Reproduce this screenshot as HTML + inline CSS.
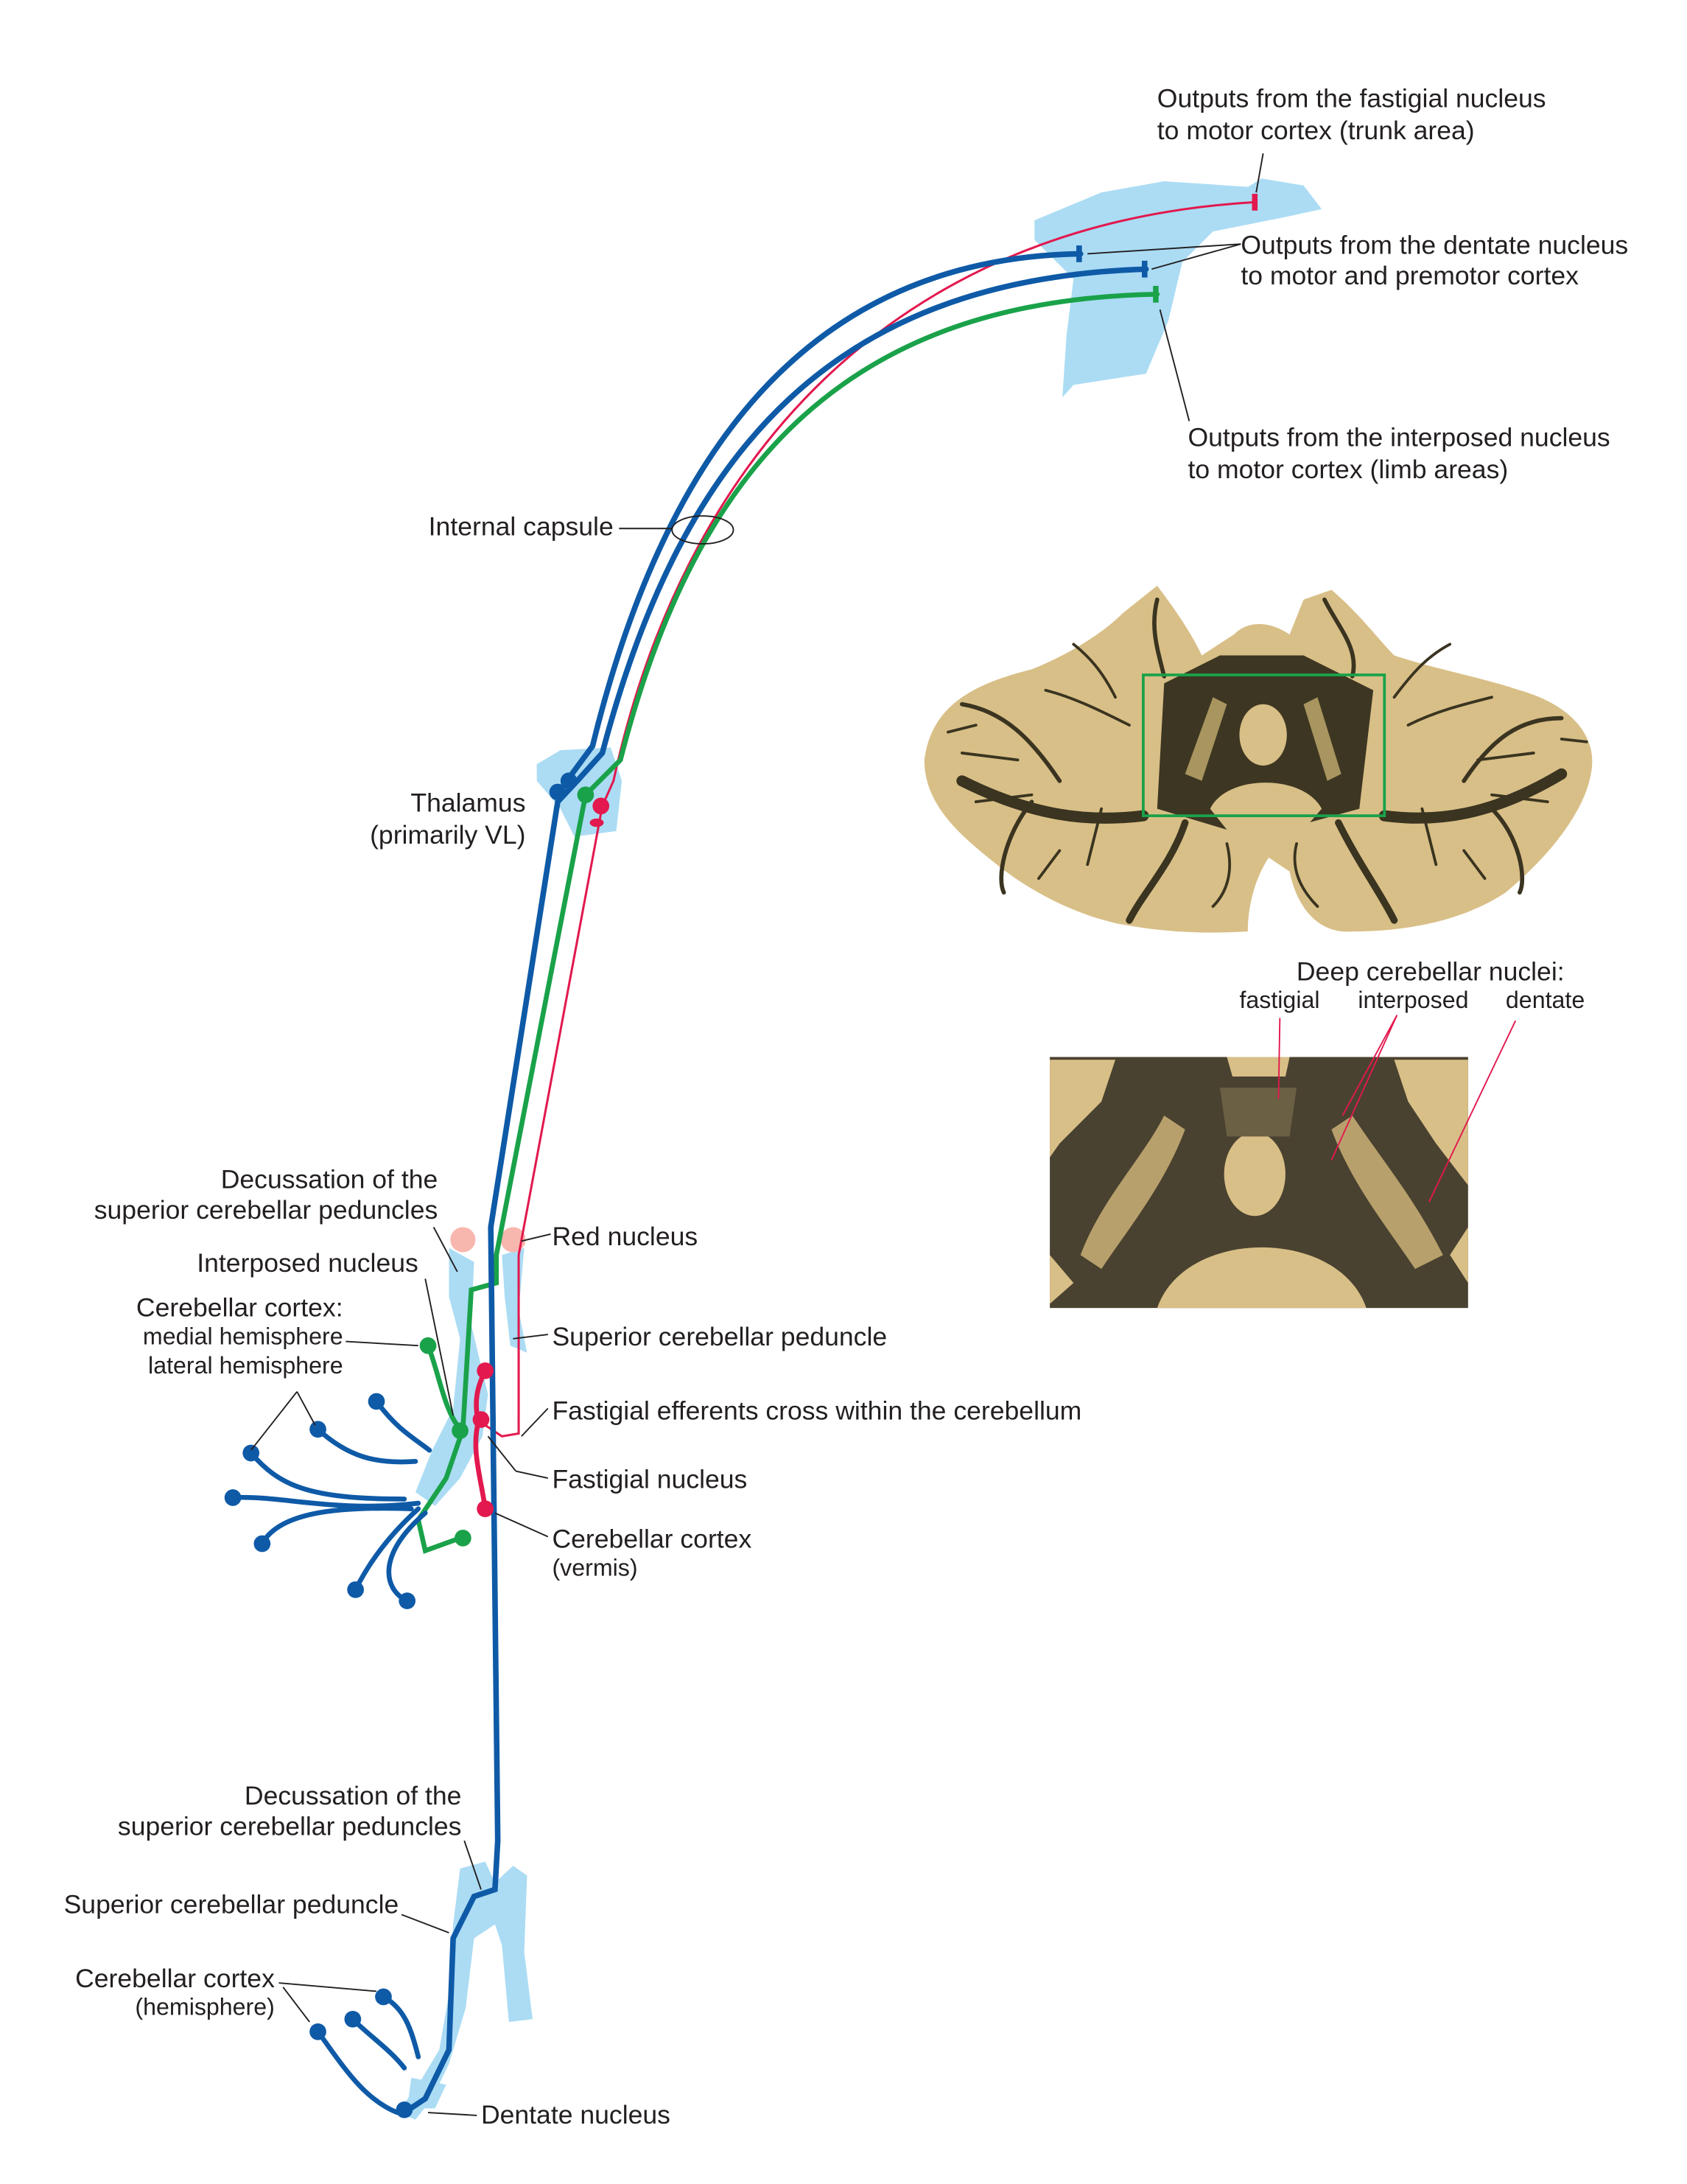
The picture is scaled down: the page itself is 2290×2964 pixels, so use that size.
<!DOCTYPE html>
<html><head><meta charset="utf-8"><style>
html,body{margin:0;padding:0;background:#fff}
svg{display:block}
text{font-family:"Liberation Sans",sans-serif;fill:#231f20}
</style></head><body>
<svg width="2290" height="2964" viewBox="0 0 1210 1566.2" xmlns="http://www.w3.org/2000/svg">
<path d="M742,158 L790,138 L835,130 L895,134 L905,128 L935,133 L948,150 L920,156 L870,166 L848,188 L838,230 L822,268 L770,276 L762,285 L765,240 L770,200 L742,172 Z" fill="#abdcf4"/>
<path d="M385,548 L402,538 L438,536 L446,560 L442,596 L412,600 L402,580 L385,560 Z" fill="#abdcf4"/>
<path d="M322,895 L340,905 L338,950 L350,1000 L346,1030 L330,1060 L312,1080 L298,1070 L310,1040 L325,1010 L330,960 L322,930 Z" fill="#abdcf4"/>
<path d="M360,900 L376,895 L372,940 L378,970 L366,965 L362,930 Z" fill="#abdcf4"/>
<circle cx="332" cy="889" r="9" fill="#f7b7ae"/><circle cx="368" cy="889" r="9" fill="#f7b7ae"/>
<path d="M330,1340 L348,1335 L355,1350 L368,1338 L378,1345 L376,1400 L382,1448 L365,1450 L360,1395 L355,1380 L340,1390 L334,1440 L322,1480 L310,1505 L298,1520 L285,1515 L300,1495 L315,1470 L322,1430 L325,1380 Z" fill="#abdcf4"/>
<path d="M295,1490 L320,1495 L312,1512 L292,1512 Z" fill="#abdcf4"/>
<g fill="none" stroke-linecap="round">
<path d="M900,145 C640,160 490,330 440,560 L432,578 L372,900 L372,1028 L360,1030 L345,1020" stroke="#e2184e" stroke-width="1.6"/>
<path d="M348,983 C342,995 340,1005 343,1020 C338,1040 345,1060 348,1082" stroke="#e2184e" stroke-width="3.5"/>
<path d="M830,211 C610,215 500,330 445,545 L420,570 L356,900 L356,920 L338,925 L332,1025 L320,1060 L300,1090 L305,1112 L330,1103" stroke="#1aa24a" stroke-width="3.5"/>
<path d="M307,965 C315,985 318,1010 330,1025" stroke="#1aa24a" stroke-width="3.5"/>
<path d="M775,182 C590,185 480,310 425,535 L408,558" stroke="#0e5aa7" stroke-width="4"/>
<path d="M822,193 C600,200 490,320 432,540 L414,560 L400,575 L352,880 L357,1320 L355,1355 L340,1360 L325,1390 L322,1470 L305,1505 L290,1515" stroke="#0e5aa7" stroke-width="4"/>
<path d="M228,1457 C245,1480 260,1505 285,1515" stroke="#0e5aa7" stroke-width="3.5"/>
<path d="M253,1448 C265,1460 280,1470 290,1483" stroke="#0e5aa7" stroke-width="3.5"/>
<path d="M275,1432 C290,1440 295,1455 300,1475" stroke="#0e5aa7" stroke-width="3.5"/>
<g stroke="#0e5aa7" stroke-width="3.5">
<path d="M228,1025 C250,1045 270,1050 298,1048"/>
<path d="M180,1042 C200,1065 220,1075 290,1075"/>
<path d="M167,1074 C200,1072 240,1085 300,1078"/>
<path d="M188,1107 C200,1085 240,1080 295,1082"/>
<path d="M255,1140 C265,1120 280,1100 300,1082"/>
<path d="M292,1148 C275,1140 270,1115 305,1085"/>
<path d="M270,1005 C285,1025 295,1030 308,1040"/>
</g>
</g>
<g fill="#0e5aa7">
<circle cx="400" cy="568" r="6"/><circle cx="408" cy="560" r="6"/>
<circle cx="228" cy="1025" r="6"/><circle cx="180" cy="1042" r="6"/><circle cx="167" cy="1074" r="6"/><circle cx="188" cy="1107" r="6"/><circle cx="255" cy="1140" r="6"/><circle cx="292" cy="1148" r="6"/><circle cx="270" cy="1005" r="6"/>
<circle cx="228" cy="1457" r="6"/><circle cx="253" cy="1448" r="6"/><circle cx="275" cy="1432" r="6"/><circle cx="290" cy="1513" r="6"/>
<rect x="772" y="176" width="4" height="12"/><rect x="819" y="187" width="4" height="12"/>
</g>
<g fill="#1aa24a"><circle cx="420" cy="570" r="6"/><circle cx="307" cy="965" r="6"/><circle cx="330" cy="1026" r="6"/><circle cx="332" cy="1103" r="6"/><rect x="827" y="205" width="4" height="12"/></g>
<g fill="#e2184e"><circle cx="431" cy="578" r="6"/><circle cx="348" cy="983" r="6"/><circle cx="345" cy="1018" r="6"/><circle cx="348" cy="1082" r="6"/><rect x="898" y="139" width="4" height="12"/><ellipse cx="428" cy="590" rx="5" ry="3"/></g>
<ellipse cx="504" cy="380" rx="22" ry="10" fill="none" stroke="#231f20" stroke-width="1"/>
<g stroke="#231f20" stroke-width="1" fill="none">
<line x1="444" y1="379" x2="482" y2="379"/>
<line x1="906" y1="110" x2="901" y2="138"/>
<line x1="890" y1="175" x2="780" y2="182"/><line x1="890" y1="175" x2="826" y2="193"/>
<line x1="832" y1="222" x2="853" y2="302"/>
<line x1="311" y1="880" x2="328" y2="912"/>
<line x1="305" y1="917" x2="325" y2="1015"/>
<line x1="248" y1="962" x2="300" y2="965"/>
<line x1="213" y1="998" x2="180" y2="1040"/><line x1="213" y1="998" x2="226" y2="1022"/>
<line x1="395" y1="885" x2="374" y2="890"/>
<line x1="393" y1="957" x2="368" y2="960"/>
<line x1="393" y1="1010" x2="374" y2="1030"/>
<line x1="393" y1="1060" x2="370" y2="1055"/><line x1="370" y1="1055" x2="350" y2="1030"/>
<line x1="393" y1="1102" x2="355" y2="1085"/>
<line x1="333" y1="1320" x2="345" y2="1355"/>
<line x1="288" y1="1373" x2="322" y2="1386"/>
<line x1="200" y1="1422" x2="270" y2="1428"/><line x1="203" y1="1425" x2="222" y2="1450"/>
<line x1="342" y1="1517" x2="307" y2="1515"/>
</g>
<path d="M663,545 C668,505 700,490 740,480 C765,470 790,455 805,440 L830,420 C845,440 855,455 862,470 L885,455 C895,445 910,445 925,455 L935,430 L955,423 C975,440 990,460 1000,470 C1030,480 1060,485 1090,495 C1125,505 1143,525 1142,548 C1140,580 1110,615 1080,640 C1050,660 1010,668 970,668 C945,670 930,650 925,625 L910,615 C900,630 895,650 895,668 C860,670 830,668 800,662 C770,655 740,640 715,620 C690,600 663,578 663,545 Z" fill="#d8bf87"/>
<g stroke="#3a3420" fill="none" stroke-linecap="round">
<path d="M820,585 C780,590 740,585 690,560" stroke-width="8"/>
<path d="M993,585 C1030,590 1070,585 1120,555" stroke-width="8"/>
<path d="M850,590 C840,620 820,640 810,660" stroke-width="5"/>
<path d="M960,590 C975,620 990,640 1000,660" stroke-width="5"/>
<path d="M740,575 C720,600 715,630 720,640" stroke-width="3"/>
<path d="M1070,580 C1090,600 1095,630 1090,640" stroke-width="3"/>
<path d="M760,560 C740,530 720,510 690,505" stroke-width="3"/>
<path d="M1050,560 C1070,530 1090,515 1120,515" stroke-width="3"/>
<path d="M835,485 C830,465 825,450 830,430" stroke-width="3"/>
<path d="M970,485 C975,465 960,450 950,430" stroke-width="3"/>
<path d="M690,540 L730,545 M700,575 L740,570 M1100,540 L1060,545 M1110,575 L1070,570 M780,620 L790,580 M1030,620 L1020,580" stroke-width="2"/>
<path d="M800,500 C790,480 780,470 770,462 M810,520 C790,510 770,500 750,495 M700,520 L680,525 M1000,500 C1015,480 1025,470 1040,462 M1010,520 C1030,510 1050,505 1070,500 M1120,530 L1138,532 M760,610 L745,630 M1050,610 L1065,630 M880,605 C885,625 880,640 870,650 M930,605 C925,625 935,640 945,650" stroke-width="2"/>
</g>
<path d="M835,490 L875,470 L935,470 L985,495 L975,580 L920,595 L880,595 L830,580 Z" fill="#3d3622"/>
<ellipse cx="906" cy="527" rx="17" ry="22" fill="#d8bf87"/>
<path d="M868,580 C880,555 935,555 948,580 L935,595 L880,595 Z" fill="#d8bf87"/>
<path d="M850,555 L870,500 L880,505 L862,560 Z M962,555 L945,500 L935,505 L952,560 Z" fill="#a8955f"/>
<rect x="820" y="484" width="173" height="101" fill="none" stroke="#1aa24a" stroke-width="2"/>
<rect x="753" y="758" width="300" height="180" fill="#4a4230"/>
<path d="M753,760 L800,760 L790,790 L760,820 L753,830 Z M1000,760 L1053,760 L1053,850 L1030,820 L1010,790 Z" fill="#d8bf87"/>
<path d="M880,758 L925,758 L922,772 L884,772 Z" fill="#d8bf87"/>
<ellipse cx="900" cy="842" rx="22" ry="30" fill="#d8bf87"/>
<path d="M830,938 C850,880 960,880 980,938 Z" fill="#d8bf87"/>
<path d="M775,900 C790,860 820,830 835,800 L850,810 C835,850 810,880 790,910 Z" fill="#b8a06c"/>
<path d="M1035,900 C1015,860 990,830 970,800 L955,810 C970,850 995,880 1015,910 Z" fill="#b8a06c"/>
<path d="M875,780 L930,780 L925,815 L880,815 Z" fill="#6b5f44"/>
<path d="M1053,880 L1040,900 L1053,920 Z M753,900 L770,920 L753,935 Z" fill="#d8bf87"/>
<g stroke="#e2184e" stroke-width="1" fill="none">
<line x1="918" y1="730" x2="917" y2="788"/>
<line x1="1002" y1="728" x2="963" y2="800"/><line x1="1002" y1="728" x2="955" y2="832"/>
<line x1="1087" y1="732" x2="1025" y2="862"/>
</g>
<g font-size="18.8">
<text x="830" y="77">Outputs from the fastigial nucleus</text>
<text x="830" y="100">to motor cortex (trunk area)</text>
<text x="890" y="182">Outputs from the dentate nucleus</text>
<text x="890" y="204">to motor and premotor cortex</text>
<text x="852" y="320">Outputs from the interposed nucleus</text>
<text x="852" y="343">to motor cortex (limb areas)</text>
<text x="440" y="384" text-anchor="end">Internal capsule</text>
<text x="377" y="582" text-anchor="end">Thalamus</text>
<text x="377" y="605" text-anchor="end">(primarily VL)</text>
<text x="1026" y="703" text-anchor="middle">Deep cerebellar nuclei:</text>
<text x="314" y="852" text-anchor="end">Decussation of the</text>
<text x="314" y="874" text-anchor="end">superior cerebellar peduncles</text>
<text x="396" y="893">Red nucleus</text>
<text x="300" y="912" text-anchor="end">Interposed nucleus</text>
<text x="246" y="944" text-anchor="end">Cerebellar cortex:</text>
<text x="396" y="965">Superior cerebellar peduncle</text>
<text x="396" y="1018">Fastigial efferents cross within the cerebellum</text>
<text x="396" y="1067">Fastigial nucleus</text>
<text x="396" y="1110">Cerebellar cortex</text>
<text x="331" y="1294" text-anchor="end">Decussation of the</text>
<text x="331" y="1316" text-anchor="end">superior cerebellar peduncles</text>
<text x="286" y="1372" text-anchor="end">Superior cerebellar peduncle</text>
<text x="197" y="1425" text-anchor="end">Cerebellar cortex</text>
<text x="345" y="1523">Dentate nucleus</text>
</g>
<g font-size="17">
<text x="889" y="723">fastigial</text>
<text x="974" y="723">interposed</text>
<text x="1080" y="723">dentate</text>
<text x="246" y="964" text-anchor="end">medial hemisphere</text>
<text x="246" y="985" text-anchor="end">lateral hemisphere</text>
<text x="396" y="1130">(vermis)</text>
<text x="197" y="1445" text-anchor="end">(hemisphere)</text>
</g>
</svg>
</body></html>
